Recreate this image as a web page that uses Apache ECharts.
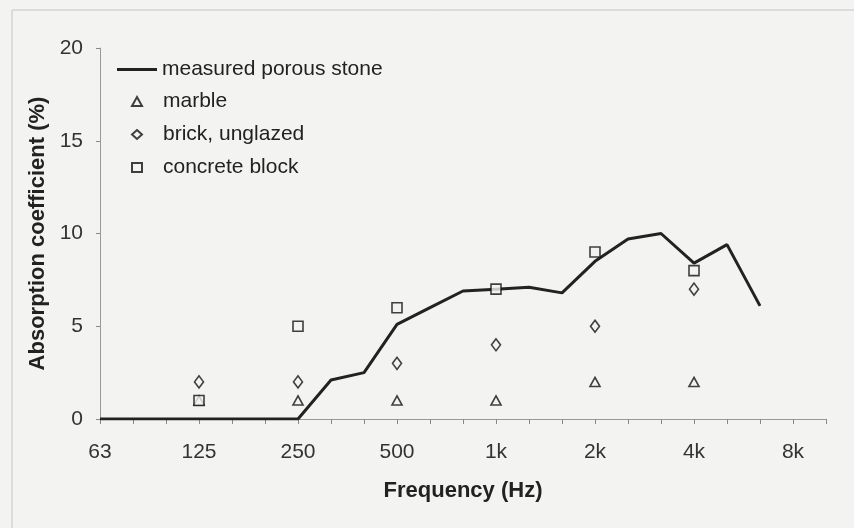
<!DOCTYPE html>
<html><head><meta charset="utf-8">
<script src="https://cdn.jsdelivr.net/npm/echarts@6/dist/echarts.min.js"></script>
<style>html,body{margin:0;padding:0;background:#f3f3f1}#c{width:854px;height:528px}</style>
</head><body><div id="c"></div>
<script>
// third-octave bands (category axis)
const bands = ['63','80','100','125','160','200','250','315','400','500','630','800','1k','1.25k','1.6k','2k','2.5k','3.15k','4k','5k','6.3k','8k','10k'];
const octaveLabels = ['63','125','250','500','1k','2k','4k','8k'];
// measured porous stone (third-octave values, %)
const porous = [0,0,0,0,0,0,0,2.1,2.5,5.1,6.0,6.9,7.0,7.1,6.8,8.5,9.7,10.0,8.4,9.4,6.1,null,null];
// octave-band reference materials
const refBands = ['125','250','500','1k','2k','4k'];
const marble = [1,1,1,1,2,2];
const brick = [2,2,3,4,5,7];
const concrete = [1,5,6,7,9,8];

const pairs = v => refBands.map((b,i)=>[b, v[i]]);
const chart = echarts.init(document.getElementById('c'));
const font = 'Liberation Sans, Arial, sans-serif';
const hollow = {color:'#f3f3f1', borderColor:'#111', borderWidth:1.6};
chart.setOption({
  backgroundColor:'#f3f3f1',
  animation:false,
  graphic:[{type:'rect', shape:{x:12,y:10,width:860,height:540}, style:{fill:'none', stroke:'#c4c4c4', lineWidth:1}}],
  grid:{left:100, right:28, top:48, bottom:109},
  legend:[{
    orient:'vertical', left:117, top:59, padding:0, itemWidth:40, itemHeight:3,
    textStyle:{fontFamily:font, fontSize:21, color:'#222'},
    data:[{name:'measured porous stone', icon:'path://M0,0 L40,0 L40,3 L0,3 Z'}]
  },{
    orient:'vertical', left:131, top:91, padding:0, itemGap:12, itemWidth:10, itemHeight:9,
    textStyle:{fontFamily:font, fontSize:21, color:'#222', padding:[0,0,0,16]},
    data:[{name:'marble', icon:'triangle'},{name:'brick, unglazed', icon:'diamond'},{name:'concrete block', icon:'rect'}]
  }],
  xAxis:{
    type:'category', data:bands, boundaryGap:false,
    name:'Frequency (Hz)', nameLocation:'middle', nameGap:61,
    nameTextStyle:{fontFamily:font, fontSize:22, fontWeight:'bold', color:'#222'},
    axisLine:{lineStyle:{color:'#999', width:1}},
    axisTick:{show:true, interval:0, length:5, lineStyle:{color:'#888'}},
    axisLabel:{interval:0, margin:23, fontFamily:font, fontSize:21, color:'#333',
      formatter:v=>octaveLabels.includes(v)?v:''},
    splitLine:{show:false}
  },
  yAxis:{
    type:'value', min:0, max:20, interval:5,
    name:'Absorption coefficient (%)', nameLocation:'middle', nameGap:50,
    nameTextStyle:{fontFamily:font, fontSize:22, fontWeight:'bold', color:'#222'},
    axisLine:{show:true, lineStyle:{color:'#999', width:1}},
    axisTick:{show:true, length:4, lineStyle:{color:'#888'}},
    axisLabel:{margin:17, fontFamily:font, fontSize:21, color:'#333'},
    splitLine:{show:false}
  },
  series:[
    {name:'measured porous stone', type:'line', data:porous, symbol:'none',
      lineStyle:{color:'#222', width:3}, itemStyle:{color:'#222'}, z:3},
    {name:'marble', type:'scatter', data:pairs(marble), symbol:'triangle', symbolSize:[10,9], itemStyle:hollow, z:4},
    {name:'brick, unglazed', type:'scatter', data:pairs(brick), symbol:'diamond', symbolSize:[9,12], itemStyle:hollow, z:4},
    {name:'concrete block', type:'scatter', data:pairs(concrete), symbol:'rect', symbolSize:[10,10], itemStyle:hollow, z:4}
  ]
});
</script></body></html>
